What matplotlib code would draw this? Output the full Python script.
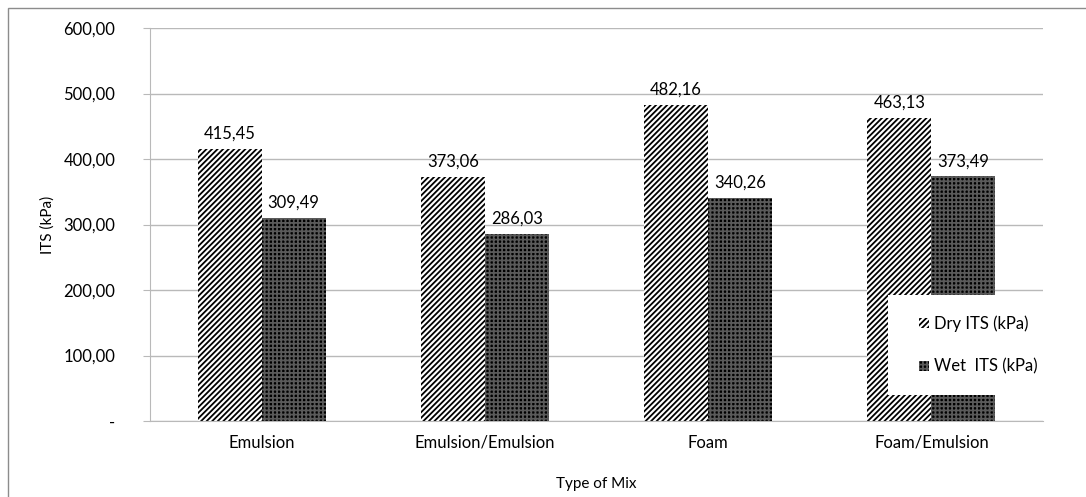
import numpy as np
import matplotlib.pyplot as plt
from matplotlib.patches import Rectangle, Patch

# --------- data --------

mixes = ['Emulsion', 'Emulsion/Emulsion', 'Foam', 'Foam/Emulsion']
dry_its = [415.45, 373.06, 482.16, 463.13]
wet_its = [309.49, 286.03, 340.26, 373.49]
yticks = [0, 100, 200, 300, 400, 500, 600]

# --------- plot-params -----------

plt.rcParams['font.family'] = ['Lato', 'DejaVu Sans']
plt.rcParams['hatch.linewidth'] = 1.3
fsize = 12
gridcol = '#b9b9b9'
wet_face = 'black'
wet_hatch = '#5a5a5a'
dry_pat = '//////'
wet_pat = '++++'


def fmt(v):
    return ('%.2f' % v).replace('.', ',')


fig = plt.figure(figsize=(10.86, 4.97), dpi=100)
ax = fig.add_axes([150 / 1086, 1 - 421 / 497, 893 / 1086, 393 / 497])

# outer frame of chart
fig.patches.append(Rectangle((8 / 1086, -0.1), 1.2, 1 - 8 / 497 + 0.1,
                             transform=fig.transFigure, fill=False,
                             edgecolor='#8c8c8c', lw=1.0))

x = np.arange(len(mixes))
w = 0.287

ax.bar(x - w / 2, dry_its, w, facecolor='white', edgecolor='black',
       hatch=dry_pat, lw=0, zorder=2)
ax.bar(x + w / 2, wet_its, w, facecolor=wet_face, edgecolor=wet_hatch,
       hatch=wet_pat, lw=0, zorder=2)

for xi, v in zip(x - w / 2, dry_its):
    ax.text(xi, v + 11, fmt(v), ha='center', va='bottom', fontsize=fsize)
for xi, v in zip(x + w / 2, wet_its):
    ax.text(xi, v + 11, fmt(v), ha='center', va='bottom', fontsize=fsize)

ax.set_xlim(-0.5, len(mixes) - 0.5)
ax.set_ylim(0, 600)
ax.set_yticks(yticks)
ax.set_yticklabels(['-' if t == 0 else fmt(t) for t in yticks], fontsize=fsize)
ax.set_xticks(x)
ax.set_xticklabels(mixes, fontsize=fsize)
ax.tick_params(axis='y', length=5, color=gridcol, pad=20)
ax.tick_params(axis='x', length=0, pad=10)

ax.yaxis.grid(True, color=gridcol, lw=1.0, zorder=0)
ax.set_axisbelow(True)
for s in ['top', 'right']:
    ax.spines[s].set_visible(False)
ax.spines['left'].set_color(gridcol)
ax.spines['bottom'].set_color(gridcol)

ax.set_ylabel('ITS (kPa)', fontsize=fsize - 1, labelpad=6)
ax.set_xlabel('Type of Mix', fontsize=fsize - 1, labelpad=19)

# legend with white box over bars
ax.add_patch(Rectangle((0.826, 0.066), 0.2, 0.254, transform=ax.transAxes,
                       facecolor='white', edgecolor='none', zorder=5,
                       clip_on=False))
handles = [Patch(facecolor='white', edgecolor='black', hatch=dry_pat, lw=0),
           Patch(facecolor=wet_face, edgecolor=wet_hatch, hatch=wet_pat, lw=0)]
leg = ax.legend(handles, ['Dry ITS (kPa)', 'Wet  ITS (kPa)'], frameon=False,
                loc='center left', bbox_to_anchor=(0.852, 0.193),
                fontsize=fsize, handlelength=0.6, handleheight=0.6,
                handletextpad=0.3, labelspacing=1.6, borderpad=0)
leg.set_zorder(6)

fig.savefig('out.png', dpi=100)
